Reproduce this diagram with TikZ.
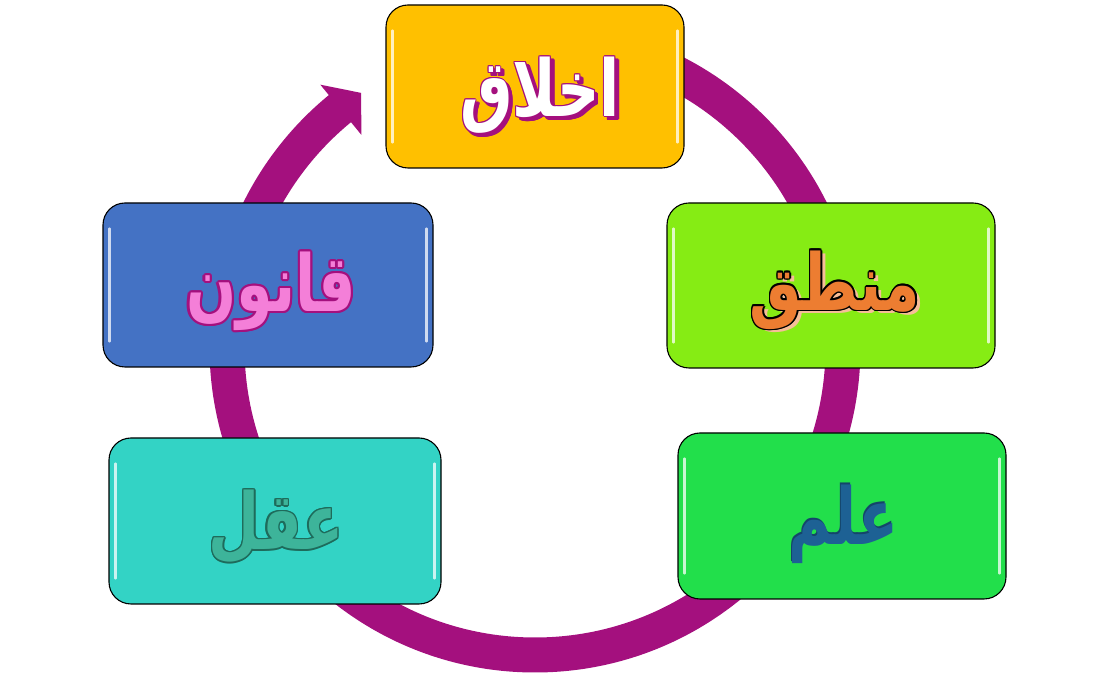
\documentclass[tikz,border=0pt]{standalone}
\usepackage{fontspec}
\usetikzlibrary{calc}
\TeXXeTstate=1
\newfontfamily\arabicfont[Script=Arabic]{DejaVu Sans}
\definecolor{ringc}{HTML}{A4107E}
\definecolor{ylw}{HTML}{FFC000}
\definecolor{limec}{HTML}{86EC14}
\definecolor{greenc}{HTML}{22DF4B}
\definecolor{tealc}{HTML}{33D3C5}
\definecolor{bluec}{HTML}{4472C4}
\definecolor{orangec}{HTML}{ED7D31}
\definecolor{orangesh}{HTML}{F6BE98}
\definecolor{pinkc}{HTML}{F47FD8}
\definecolor{tealtxt}{HTML}{3DB49A}
\definecolor{tealout}{HTML}{1E6B5B}
\definecolor{bluetxt}{HTML}{1D6194}
\definecolor{bluedark}{HTML}{14456A}
\newcommand\arword[1]{\scalebox{1.05}[1.4]{\beginR #1\endR}}
\begin{document}
\begin{tikzpicture}[x=1pt,y=1pt,
  ring/.style={line width=35pt, draw=ringc},
  cbox/.style={draw=black, line width=1.1pt, rounded corners=22pt},
  gloss/.style={draw=white, line width=2.2pt, line cap=round, opacity=0.75},
  word/.style={font=\arabicfont\bfseries\fontsize{56}{66}\selectfont, inner sep=0pt}
]
\useasboundingbox (0,0) rectangle (1100,700);
\coordinate (c) at (535,353);
% ring with arrow
\draw[ring] ($(c)+(90:308)$) arc[start angle=90,end angle=-231,radius=308];
\fill[ringc] ($(c)+(129.3:339)$) -- ($(c)+(124.4:308)$) -- ($(c)+(129.3:274)$) -- cycle;
% boxes
\node[cbox, fill=ylw,    minimum width=298pt, minimum height=163pt] (akhlaq) at (535,613.5) {};
\node[cbox, fill=limec,  minimum width=328pt, minimum height=165pt] (mantiq) at (831,414.5) {};
\node[cbox, fill=greenc, minimum width=328pt, minimum height=166pt] (elm)    at (842,184) {};
\node[cbox, fill=tealc,  minimum width=332pt, minimum height=166pt] (aql)    at (275,179) {};
\node[cbox, fill=bluec,  minimum width=330pt, minimum height=164pt] (qanun)  at (268,415) {};
% gloss highlights
\foreach \b in {akhlaq,mantiq,elm,aql,qanun}{
  \draw[gloss] ($(\b.north west)+(7,-26)$) -- ($(\b.south west)+(7,26)$);
  \draw[gloss] ($(\b.north east)+(-7,-26)$) -- ($(\b.south east)+(-7,26)$);
}
% akhlaq: white with magenta shadow and thin outline
\foreach \a in {0,45,...,315}
  \node[word, text=ringc] at ($(540,605)+(\a:1pt)+(3.5,-3.5)$) {\arword{اخلاق}};
\foreach \a in {0,45,...,315}
  \node[word, text=ringc] at ($(540,605)+(\a:1pt)$) {\arword{اخلاق}};
\node[word, text=white] (takhlaq) at (540,605) {\arword{اخلاق}};
% mantiq: orange, black outline, light shadow
\node[word, text=orangesh] at ($(835,410)+(4.5,-3.5)$) {\arword{منطق}};
\foreach \a in {0,30,...,330}
  \node[word, text=black] at ($(835,410)+(\a:1.4pt)$) {\arword{منطق}};
\node[word, text=orangec] (tmantiq) at (835,410) {\arword{منطق}};
% qanun: pink with magenta outline
\foreach \a in {0,30,...,330}
  \node[word, text=ringc] at ($(271,409)+(\a:2.2pt)$) {\arword{قانون}};
\node[word, text=pinkc] (tqanun) at (271,409) {\arword{قانون}};
% aql: teal with dark outline
\foreach \a in {0,30,...,330}
  \node[word, text=tealout] at ($(276,173)+(\a:1.5pt)$) {\arword{عقل}};
\node[word, text=tealtxt] (taql) at (276,173) {\arword{عقل}};
% elm: dark blue
\node[word, text=bluedark] at ($(844,176)+(-1.5,1.5)$) {\arword{علم}};
\node[word, text=bluetxt] (telm) at (844,176) {\arword{علم}};
\end{tikzpicture}
\end{document}
